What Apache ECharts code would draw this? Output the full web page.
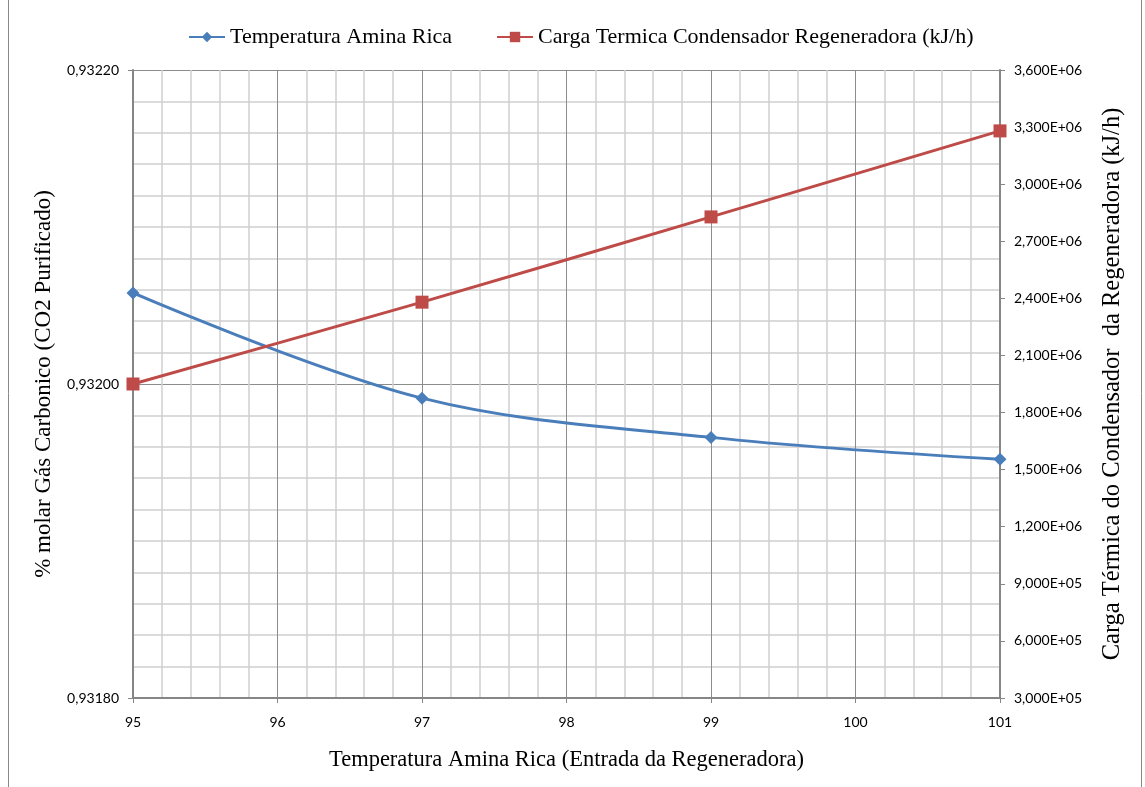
<!DOCTYPE html>
<html><head><meta charset="utf-8">
<script src="https://cdn.jsdelivr.net/npm/echarts@6/dist/echarts.min.js"></script>
<style>html,body{margin:0;padding:0;background:#fff}#c{width:1145px;height:787px}</style>
</head><body><div id="c"></div>
<script>
const xValues = [95, 97, 99, 101];
const aminaTemp = [0.932058, 0.931991, 0.931966, 0.931952];
const cargaTermica = [1950000, 2380000, 2828000, 3280000];
const seriesNames = ['Temperatura Amina Rica', 'Carga Termica Condensador Regeneradora (kJ/h)'];

function fmtE(v){
  if (v === 0) return '0,000E+00';
  const e = Math.floor(Math.log10(v) + 1e-9);
  const m = v / Math.pow(10, e);
  return m.toFixed(3).replace('.', ',') + 'E+' + String(e).padStart(2, '0');
}
const chart = echarts.init(document.getElementById('c'));
const tickFont = {fontFamily: 'Lato', fontSize: 14, color: '#000'};
chart.setOption({
  animation: false,
  backgroundColor: '#fff',
  grid: {left: 133, right: 145, top: 70, bottom: 89},
  legend: {
    top: 21, left: 183, itemGap: 44, itemWidth: 36, itemHeight: 13,
    textStyle: {fontFamily: 'Liberation Serif', fontSize: 22, color: '#000'},
    data: seriesNames
  },
  xAxis: {
    type: 'value', min: 95, max: 101, interval: 1,
    name: 'Temperatura Amina Rica (Entrada da Regeneradora)',
    nameLocation: 'middle', nameGap: 51,
    nameTextStyle: {fontFamily: 'Liberation Serif', fontSize: 22.5, color: '#000'},
    axisLine: {lineStyle: {color: '#868686', width: 2}},
    axisTick: {show: true, length: 5, lineStyle: {color: '#868686'}},
    axisLabel: Object.assign({margin: 17}, tickFont),
    splitLine: {show: true, lineStyle: {color: '#8c8c8c', width: 1}},
    minorTick: {show: false, splitNumber: 5},
    minorSplitLine: {show: true, lineStyle: {color: '#d0d0d0', width: 1.5}}
  },
  yAxis: [{
    type: 'value', min: 0.9318, max: 0.9322, interval: 0.0002,
    name: '% molar Gás Carbonico (CO2 Purificado)',
    nameLocation: 'middle', nameGap: 78, nameRotate: 90,
    nameTextStyle: {fontFamily: 'Liberation Serif', fontSize: 23, color: '#000'},
    axisLine: {show: true, lineStyle: {color: '#868686', width: 2}},
    axisTick: {show: true, length: 5, lineStyle: {color: '#868686'}},
    axisLabel: Object.assign({margin: 14, formatter: v => v.toFixed(5).replace('.', ',')}, tickFont),
    splitLine: {show: true, lineStyle: {color: '#8c8c8c', width: 1}},
    minorTick: {show: false, splitNumber: 10},
    minorSplitLine: {show: true, lineStyle: {color: '#d0d0d0', width: 1.5}}
  }, {
    type: 'value', min: 300000, max: 3600000, interval: 300000, position: 'right',
    name: 'Carga Térmica do Condensador  da Regeneradora (kJ/h)',
    nameLocation: 'middle', nameGap: 100, nameRotate: 90,
    nameTextStyle: {fontFamily: 'Liberation Serif', fontSize: 24.5, color: '#000'},
    axisLine: {show: true, lineStyle: {color: '#868686', width: 2}},
    axisTick: {show: true, length: 5, lineStyle: {color: '#868686'}},
    axisLabel: Object.assign({margin: 14, formatter: fmtE}, tickFont),
    splitLine: {show: false}
  }],
  series: [{
    name: seriesNames[0], type: 'line', yAxisIndex: 0, smooth: 0.35,
    data: xValues.map((x, i) => [x, aminaTemp[i]]),
    symbol: 'diamond', symbolSize: 13,
    lineStyle: {color: '#4a7ebb', width: 3},
    itemStyle: {color: '#4a7ebb'}, z: 3
  }, {
    name: seriesNames[1], type: 'line', yAxisIndex: 1, smooth: 0.2,
    data: xValues.map((x, i) => [x, cargaTermica[i]]),
    symbol: 'rect', symbolSize: 13,
    lineStyle: {color: '#be4b48', width: 3},
    itemStyle: {color: '#be4b48'}, z: 3
  }],
  graphic: [
    {type: 'line', shape: {x1: 8.5, y1: 0, x2: 8.5, y2: 787}, style: {stroke: '#888', lineWidth: 1}},
    {type: 'line', shape: {x1: 1141.5, y1: 0, x2: 1141.5, y2: 787}, style: {stroke: '#888', lineWidth: 1}}
  ]
});
</script></body></html>
